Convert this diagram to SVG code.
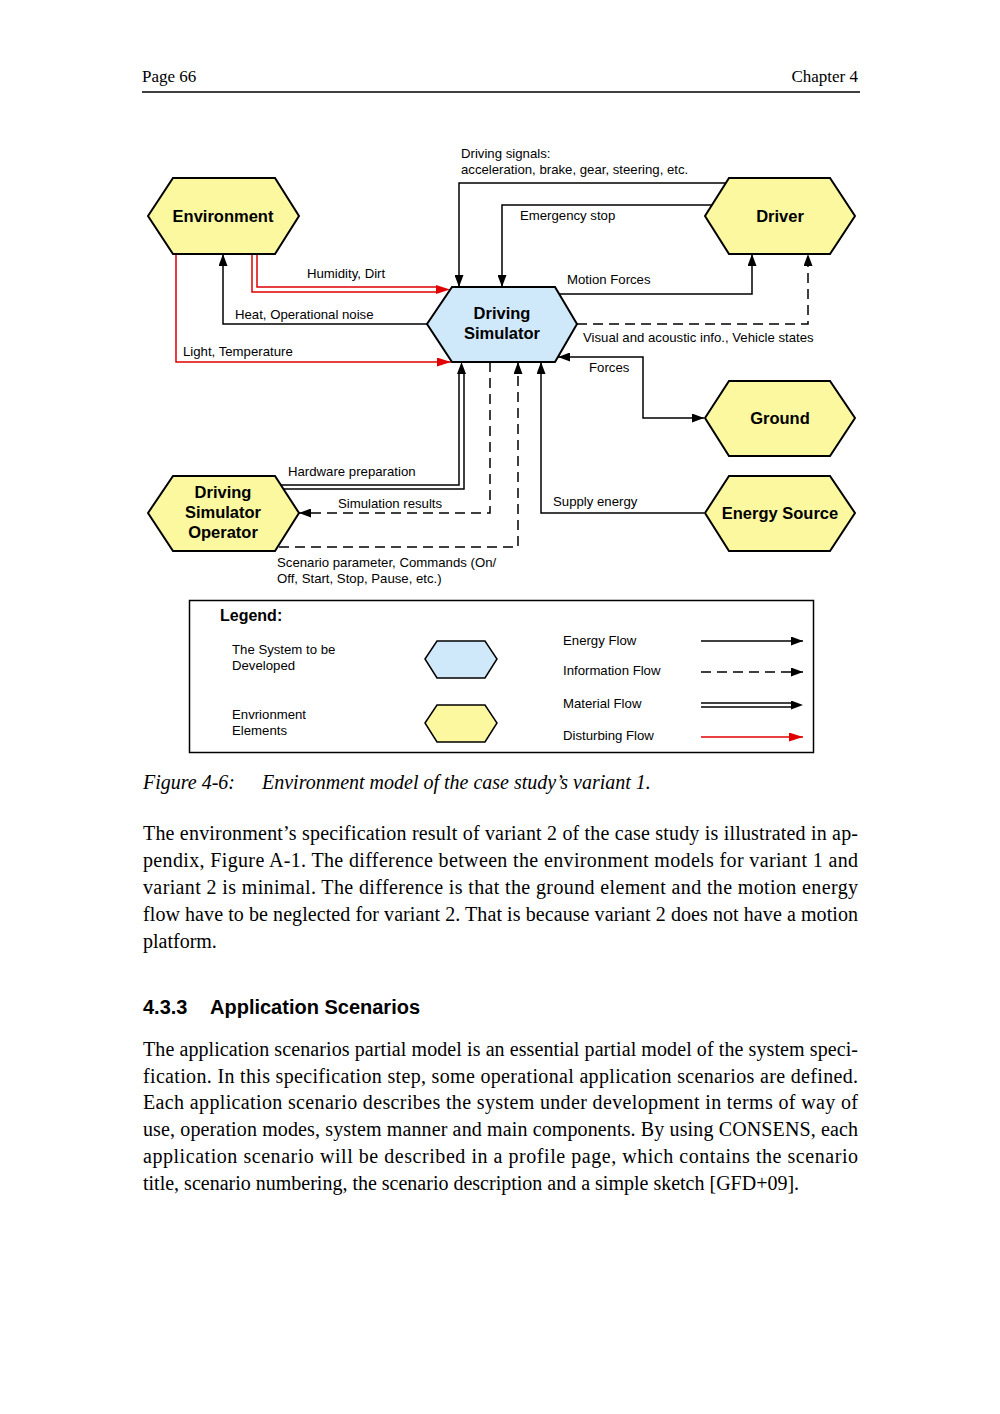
<svg xmlns="http://www.w3.org/2000/svg" width="1000" height="1414" viewBox="0 0 1000 1414">
<defs>
<style>
.env{fill:#fbf8a0;stroke:#000;stroke-width:2}
.sys{fill:#cfe9fb;stroke:#000;stroke-width:2}
.nl{font-family:"Liberation Sans",Arial,sans-serif;font-weight:bold;font-size:16.5px;text-anchor:middle;fill:#000}
.lb{font-family:"Liberation Sans",Arial,sans-serif;font-size:13.2px;fill:#000}
.c{fill:none;stroke:#000;stroke-width:1.5}
.d{fill:none;stroke:#000;stroke-width:1.5;stroke-dasharray:10,6}
.r{fill:none;stroke:#e00000;stroke-width:1.5}
.ah{fill:none;stroke:none}
.body{font-family:"Liberation Serif","Times New Roman",serif;font-size:20px;fill:#000}
.hdr{font-family:"Liberation Serif","Times New Roman",serif;font-size:17px;fill:#000}
</style>
<marker id="a" markerWidth="12" markerHeight="9" refX="12" refY="4.5" orient="auto-start-reverse" markerUnits="userSpaceOnUse"><path d="M0,0 L12,4.5 L0,9 z" fill="#000"/></marker>
<marker id="ar" markerWidth="14" markerHeight="9" refX="14" refY="4.5" orient="auto" markerUnits="userSpaceOnUse"><path d="M0,0 L14,4.5 L0,9 z" fill="#e00000"/></marker>
</defs>
<rect width="1000" height="1414" fill="#fff"/>

<g id="header">
<text class="hdr" x="142" y="82">Page 66</text>
<text class="hdr" x="858" y="82" text-anchor="end">Chapter 4</text>
<line x1="142" y1="92" x2="860" y2="92" stroke="#000" stroke-width="1.3"/>
</g>

<g id="connectors">
<polyline class="c" points="726,183 459,183 459,287" marker-end="url(#a)"/>
<polyline class="c" points="712,205 502,205 502,287" marker-end="url(#a)"/>
<polyline class="c" points="559,294 752,294 752,254" marker-end="url(#a)"/>
<polyline class="d" points="577,324 808,324 808,254" marker-end="url(#a)"/>
<polyline class="c" points="558,357 643,357 643,418 704,418" marker-start="url(#a)" marker-end="url(#a)"/>
<polyline class="c" points="704,513 541,513 541,362" marker-end="url(#a)"/>
<polyline class="d" points="490,362 490,513 299,513" marker-end="url(#a)"/>
<polyline class="d" points="279,547 518,547 518,362" marker-end="url(#a)"/>
<polyline class="c" points="281,485 459,485 459,372"/>
<polyline class="c" points="283,489 464,489 464,372"/>
<path class="ah" d="M461.5,374 L461.5,362" marker-end="url(#a)"/>
<polyline class="c" points="427,324 223,324 223,254" marker-end="url(#a)"/>
<polyline class="r" points="257,254 257,287 438,287"/>
<polyline class="r" points="252,254 252,292 438,292"/>
<path class="ah" d="M434,289.5 L450,289.5" marker-end="url(#ar)"/>
<polyline class="r" points="176,254 176,362 451,362" marker-end="url(#ar)"/>
</g>

<g id="connector-labels">
<text class="lb" x="461" y="158">Driving signals:</text>
<text class="lb" x="461" y="174">acceleration, brake, gear, steering, etc.</text>
<text class="lb" x="520" y="220">Emergency stop</text>
<text class="lb" x="307" y="278">Humidity, Dirt</text>
<text class="lb" x="567" y="284">Motion Forces</text>
<text class="lb" x="235" y="319">Heat, Operational noise</text>
<text class="lb" x="583" y="342">Visual and acoustic info., Vehicle states</text>
<text class="lb" x="183" y="356">Light, Temperature</text>
<text class="lb" x="589" y="372">Forces</text>
<text class="lb" x="288" y="476">Hardware preparation</text>
<text class="lb" x="338" y="508">Simulation results</text>
<text class="lb" x="553" y="506">Supply energy</text>
<text class="lb" x="277" y="567">Scenario parameter, Commands (On/</text>
<text class="lb" x="277" y="583">Off, Start, Stop, Pause, etc.)</text>
</g>

<g id="environment">
<polygon class="env" points="148,216 173,178 275,178 299,216 275,254 173,254"/>
<text class="nl" x="223" y="222">Environment</text>
</g>
<g id="driving-simulator">
<polygon class="sys" points="427,324 452,287 555,287 577,324 555,362 452,362"/>
<text class="nl" x="502" y="319">Driving</text>
<text class="nl" x="502" y="339">Simulator</text>
</g>
<g id="driver">
<polygon class="env" points="705,216 729,178 830,178 855,216 830,254 729,254"/>
<text class="nl" x="780" y="222">Driver</text>
</g>
<g id="ground">
<polygon class="env" points="705,418 729,381 830,381 855,418 830,456 729,456"/>
<text class="nl" x="780" y="424">Ground</text>
</g>
<g id="energy-source">
<polygon class="env" points="705,513 729,476 830,476 855,513 830,551 729,551"/>
<text class="nl" x="780" y="519">Energy Source</text>
</g>
<g id="operator">
<polygon class="env" points="148,513 173,476 275,476 299,513 275,551 173,551"/>
<text class="nl" x="223" y="498">Driving</text>
<text class="nl" x="223" y="518">Simulator</text>
<text class="nl" x="223" y="538">Operator</text>
</g>

<g id="legend">
<rect x="189.5" y="600.5" width="624" height="152" fill="none" stroke="#000" stroke-width="1.5"/>
<text class="nl" x="220" y="621" style="font-size:16px;text-anchor:start">Legend:</text>
<text class="lb" x="232" y="654">The System to be</text>
<text class="lb" x="232" y="670">Developed</text>
<polygon class="sys" points="425,659 437,641 485,641 497,659 485,678 437,678" style="stroke-width:1.5"/>
<text class="lb" x="232" y="719">Envrionment</text>
<text class="lb" x="232" y="735">Elements</text>
<polygon class="env" points="425,723 437,705 485,705 497,723 485,742 437,742" style="stroke-width:1.5"/>
<text class="lb" x="563" y="645">Energy Flow</text>
<line class="c" x1="701" y1="641" x2="803" y2="641" marker-end="url(#a)"/>
<text class="lb" x="563" y="675">Information Flow</text>
<line class="d" x1="701" y1="672" x2="803" y2="672" marker-end="url(#a)"/>
<text class="lb" x="563" y="708">Material Flow</text>
<line class="c" x1="701" y1="703" x2="794" y2="703"/>
<line class="c" x1="701" y1="707" x2="794" y2="707"/>
<path class="ah" d="M790,705 L803,705" marker-end="url(#a)"/>
<text class="lb" x="563" y="740">Disturbing Flow</text>
<line class="r" x1="701" y1="737" x2="803" y2="737" marker-end="url(#ar)"/>
</g>

<g id="caption">
<text class="body" x="143" y="789" font-style="italic">Figure 4-6:</text>
<text class="body" x="262" y="789" font-style="italic">Environment model of the case study’s variant 1.</text>
</g>

<g id="paragraph1">
<text class="body" x="143" y="840" textLength="715" lengthAdjust="spacing">The environment’s specification result of variant 2 of the case study is illustrated in ap-</text>
<text class="body" x="143" y="867" textLength="715" lengthAdjust="spacing">pendix, Figure A-1. The difference between the environment models for variant 1 and</text>
<text class="body" x="143" y="894" textLength="715" lengthAdjust="spacing">variant 2 is minimal. The difference is that the ground element and the motion energy</text>
<text class="body" x="143" y="921" textLength="715" lengthAdjust="spacing">flow have to be neglected for variant 2. That is because variant 2 does not have a motion</text>
<text class="body" x="143" y="948">platform.</text>
</g>

<g id="section-heading">
<text x="143" y="1014" style="font-family:'Liberation Sans',Arial,sans-serif;font-weight:bold;font-size:20px">4.3.3</text>
<text x="210" y="1014" style="font-family:'Liberation Sans',Arial,sans-serif;font-weight:bold;font-size:20px">Application Scenarios</text>
</g>

<g id="paragraph2">
<text class="body" x="143" y="1056" textLength="715" lengthAdjust="spacing">The application scenarios partial model is an essential partial model of the system speci-</text>
<text class="body" x="143" y="1083" textLength="715" lengthAdjust="spacing">fication. In this specification step, some operational application scenarios are defined.</text>
<text class="body" x="143" y="1109" textLength="715" lengthAdjust="spacing">Each application scenario describes the system under development in terms of way of</text>
<text class="body" x="143" y="1136" textLength="715" lengthAdjust="spacing">use, operation modes, system manner and main components. By using CONSENS, each</text>
<text class="body" x="143" y="1163" textLength="715" lengthAdjust="spacing">application scenario will be described in a profile page, which contains the scenario</text>
<text class="body" x="143" y="1190">title, scenario numbering, the scenario description and a simple sketch [GFD+09].</text>
</g>
</svg>
